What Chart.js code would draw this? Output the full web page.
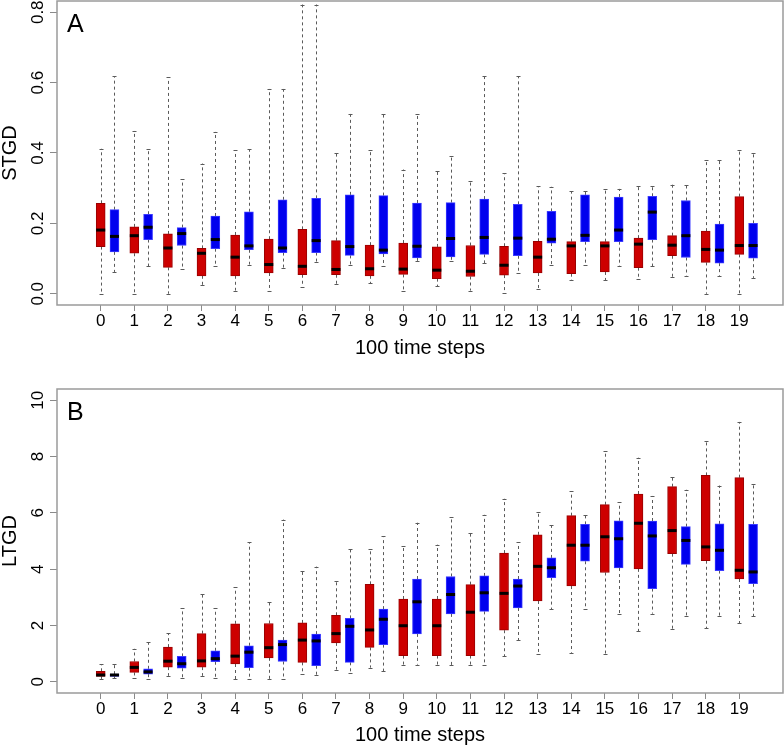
<!DOCTYPE html>
<html><head><meta charset="utf-8">
<script src="https://cdn.jsdelivr.net/npm/chart.js@4/dist/chart.umd.min.js"></script>
<style>
html,body{margin:0;padding:0;background:#fff;}
#wrap{position:relative;width:784px;height:747px;overflow:hidden;}
.pane{position:absolute;left:0;width:784px;}
canvas{display:block;}
</style></head><body>
<div id="wrap">
<div class="pane" style="top:0;height:370px"><canvas id="cA" width="784" height="370"></canvas></div>
<div class="pane" style="top:370px;height:377px"><canvas id="cB" width="784" height="377"></canvas></div>
</div>
<script>
// ---------- data ----------
const categories = [0,1,2,3,4,5,6,7,8,9,10,11,12,13,14,15,16,17,18,19];

// Panel A: STGD (red series)
const stgdRedLow  = [0,0,0,0.024,0.009,0.007,0.020,0.028,0.030,0.009,0.021,0.009,0.001,0.014,0.038,0.038,0.041,0.047,0,0];
const stgdRedQ1   = [0.134,0.115,0.075,0.051,0.051,0.059,0.054,0.054,0.051,0.055,0.043,0.049,0.053,0.059,0.057,0.062,0.074,0.108,0.089,0.112];
const stgdRedMed  = [0.181,0.165,0.130,0.115,0.104,0.083,0.078,0.069,0.071,0.070,0.067,0.064,0.081,0.104,0.136,0.136,0.141,0.138,0.126,0.137];
const stgdRedQ3   = [0.257,0.190,0.170,0.129,0.167,0.155,0.183,0.151,0.138,0.144,0.133,0.137,0.135,0.149,0.148,0.148,0.158,0.165,0.178,0.276];
const stgdRedHigh = [0.412,0.463,0.615,0.370,0.408,0.582,0.822,0.399,0.409,0.353,0.349,0.321,0.343,0.306,0.291,0.298,0.307,0.310,0.379,0.409];
// Panel A: STGD (blue series)
const stgdBlueLow  = [0.062,0.078,0.069,0.078,0.083,0.072,0.091,0.081,0.078,0.092,0.093,0.086,0.060,0.082,0.082,0.078,0.078,0.051,0.051,0.045];
const stgdBlueQ1   = [0.119,0.154,0.137,0.128,0.125,0.117,0.117,0.109,0.113,0.102,0.105,0.112,0.108,0.144,0.148,0.148,0.154,0.103,0.087,0.101];
const stgdBlueMed  = [0.163,0.189,0.171,0.154,0.136,0.130,0.151,0.134,0.124,0.135,0.157,0.160,0.158,0.155,0.166,0.181,0.232,0.165,0.124,0.137];
const stgdBlueQ3   = [0.239,0.226,0.188,0.221,0.233,0.267,0.271,0.281,0.279,0.258,0.259,0.269,0.254,0.234,0.281,0.275,0.277,0.265,0.198,0.200];
const stgdBlueHigh = [0.618,0.410,0.326,0.460,0.410,0.582,0.822,0.511,0.511,0.511,0.392,0.618,0.618,0.304,0.291,0.298,0.307,0.310,0.379,0.399];

// Panel B: LTGD (red series)
const ltgdRedLow  = [0.10,0.15,0.21,0.21,0.08,0.08,0.28,0.43,0.50,0.61,0.58,0.61,0.90,0.97,1.03,0.98,1.80,1.87,1.90,2.08];
const ltgdRedQ1   = [0.19,0.33,0.52,0.52,0.63,0.85,0.69,1.38,1.22,0.93,0.93,0.93,1.83,2.87,3.40,3.88,4.01,4.55,4.30,3.65];
const ltgdRedMed  = [0.24,0.51,0.73,0.74,0.91,1.21,1.48,1.71,1.84,1.99,1.99,2.47,3.14,4.10,4.85,5.15,5.63,5.37,4.79,3.96];
const ltgdRedQ3   = [0.37,0.72,1.23,1.71,2.06,2.07,2.09,2.36,3.46,2.94,2.94,3.45,4.57,5.22,5.90,6.29,6.67,6.93,7.33,7.25];
const ltgdRedHigh = [0.62,1.17,1.73,3.12,3.35,2.85,3.94,3.59,4.73,4.81,4.87,5.27,6.50,6.04,6.77,8.20,7.96,7.27,8.55,9.23];
// Panel B: LTGD (blue series)
const ltgdBlueLow  = [0.12,0.11,0.13,0.15,0.08,0.08,0.24,0.31,0.38,0.61,0.58,0.61,1.47,2.58,2.57,2.42,2.42,2.35,2.33,2.32];
const ltgdBlueQ1   = [0.19,0.27,0.48,0.71,0.50,0.72,0.57,0.69,1.32,1.70,2.41,2.50,2.62,3.70,4.28,4.04,3.31,4.17,3.95,3.48];
const ltgdBlueMed  = [0.24,0.35,0.64,0.82,1.05,1.32,1.45,1.97,2.22,2.84,3.10,3.16,3.40,4.05,4.85,5.08,5.18,5.02,4.67,3.90];
const ltgdBlueQ3   = [0.27,0.46,0.90,1.10,1.28,1.48,1.69,2.25,2.58,3.65,3.74,3.76,3.65,4.40,5.59,5.72,5.71,5.51,5.61,5.59];
const ltgdBlueHigh = [0.62,1.41,2.62,2.62,4.96,5.76,4.09,4.73,5.17,5.65,5.85,5.93,4.96,5.56,5.92,6.38,6.60,6.82,6.97,7.03];

// tick labels
const stgdTicks = [0, 0.2, 0.4, 0.6, 0.8];
const stgdTickLabels = ['0.0','0.2','0.4','0.6','0.8'];
const ltgdTicks = [0, 2, 4, 6, 8, 10];
const ltgdTickLabels = ['0','2','4','6','8','10'];

// ---------- drawing ----------
const FONT = "'Liberation Sans', Arial, Helvetica, sans-serif";
const RED = '#CD0000', RED_BORDER = '#9a0000';
const BLUE = '#0000EE', BLUE_BORDER = '#3a3aff';
const BLUE_OFFSET = 0.41;
const BOX_W = 9;

function makeSeries(low, q1, med, q3, high, off) {
  return categories.map((c, i) => ({pos: c + off, low: low[i], q1: q1[i], med: med[i], q3: q3[i], high: high[i]}));
}

function boxPlugin(series, letter, yTicks, yLabels) {
  return {
    id: 'boxExtras',
    beforeDatasetsDraw(chart) {
      const {ctx, scales: {x, y}, chartArea: ca} = chart;
      ctx.save();
      ctx.beginPath(); ctx.rect(ca.left, ca.top, ca.width, ca.height); ctx.clip();
      ctx.strokeStyle = '#5a5a5a';
      ctx.lineWidth = 1;
      series.forEach(s => s.forEach(b => {
        const px = Math.round(x.getPixelForValue(b.pos)) + 0.5;
        ctx.setLineDash([3, 3]);
        ctx.beginPath();
        ctx.moveTo(px, y.getPixelForValue(b.q1)); ctx.lineTo(px, y.getPixelForValue(b.low));
        ctx.moveTo(px, y.getPixelForValue(b.q3)); ctx.lineTo(px, y.getPixelForValue(b.high));
        ctx.stroke();
        ctx.setLineDash([]);
        ctx.beginPath();
        const yl = Math.round(y.getPixelForValue(b.low)) + 0.5, yh = Math.round(y.getPixelForValue(b.high)) + 0.5;
        ctx.moveTo(px - 2, yl); ctx.lineTo(px + 2, yl);
        ctx.moveTo(px - 2, yh); ctx.lineTo(px + 2, yh);
        ctx.stroke();
      }));
      ctx.restore();
    },
    afterDatasetsDraw(chart) {
      const {ctx, scales: {x, y}} = chart;
      ctx.save();
      ctx.strokeStyle = '#000';
      ctx.lineWidth = 3;
      series.forEach(s => s.forEach(b => {
        const px = x.getPixelForValue(b.pos);
        const py = y.getPixelForValue(b.med);
        ctx.beginPath(); ctx.moveTo(px - BOX_W / 2, py); ctx.lineTo(px + BOX_W / 2, py); ctx.stroke();
      }));
      ctx.restore();
    },
    afterDraw(chart) {
      const {ctx, scales: {y}, chartArea: ca} = chart;
      ctx.save();
      ctx.strokeStyle = '#9a9a9a';
      ctx.lineWidth = 1.5;
      ctx.strokeRect(ca.left, ca.top, ca.right - ca.left, ca.bottom - ca.top);
      ctx.fillStyle = '#000';
      ctx.font = '17px ' + FONT;
      ctx.textAlign = 'center';
      ctx.textBaseline = 'alphabetic';
      yTicks.forEach((v, i) => {
        ctx.save();
        ctx.translate(43, y.getPixelForValue(v));
        ctx.rotate(-Math.PI / 2);
        ctx.fillText(yLabels[i], 0, 0);
        ctx.restore();
      });
      ctx.font = '25px ' + FONT;
      ctx.textAlign = 'left';
      ctx.fillText(letter, ca.left + 10, ca.top + 31);
      ctx.restore();
    }
  };
}

function makeChart(id, cfg) {
  const red = makeSeries(cfg.redLow, cfg.redQ1, cfg.redMed, cfg.redQ3, cfg.redHigh, 0);
  const blue = makeSeries(cfg.blueLow, cfg.blueQ1, cfg.blueMed, cfg.blueQ3, cfg.blueHigh, BLUE_OFFSET);
  const barDs = (s, bg, bc) => ({
    data: s.map(b => ({x: b.pos, y: [b.q1, b.q3]})),
    backgroundColor: bg, borderColor: bc, borderWidth: 1, borderSkipped: false,
    barThickness: BOX_W, grouped: false
  });
  return new Chart(document.getElementById(id), {
    type: 'bar',
    data: {datasets: [barDs(red, RED, RED_BORDER), barDs(blue, BLUE, BLUE_BORDER)]},
    options: {
      responsive: false, animation: false, devicePixelRatio: 1,
      layout: {padding: {top: cfg.top, right: 1, left: 0, bottom: 0}},
      plugins: {legend: {display: false}, tooltip: {enabled: false}},
      scales: {
        x: {
          type: 'linear', min: -1.3, max: 20.3, offset: false,
          afterBuildTicks: s => { s.ticks = categories.map(v => ({value: v})); },
          afterFit: s => { s.height = cfg.xHeight; },
          grid: {display: true, offset: false, drawOnChartArea: false, drawTicks: true, tickLength: 6, color: '#8a8a8a'},
          border: {display: false},
          ticks: {autoSkip: false, maxRotation: 0, minRotation: 0, color: '#000', padding: 0,
                  font: {family: FONT, size: 17, lineHeight: 1.2}, callback: v => String(v)},
          title: {display: true, text: '100 time steps', color: '#000',
                  font: {family: FONT, size: 20, lineHeight: 1}, padding: {top: 0, bottom: cfg.xTitlePad}}
        },
        y: {
          type: 'linear', min: cfg.yMin, max: cfg.yMax,
          afterBuildTicks: s => { s.ticks = cfg.yTicks.map(v => ({value: v})); },
          afterFit: s => { s.width = 57; },
          grid: {display: true, offset: false, drawOnChartArea: false, drawTicks: true, tickLength: 7, color: '#8a8a8a'},
          border: {display: false},
          ticks: {display: false},
          title: {display: true, text: cfg.yTitle, color: '#000',
                  font: {family: FONT, size: 20, lineHeight: 1}, padding: {top: 0, bottom: 0}}
        }
      }
    },
    plugins: [boxPlugin([red, blue], cfg.letter, cfg.yTicks, cfg.yLabels)]
  });
}

makeChart('cA', {
  redLow: stgdRedLow, redQ1: stgdRedQ1, redMed: stgdRedMed, redQ3: stgdRedQ3, redHigh: stgdRedHigh,
  blueLow: stgdBlueLow, blueQ1: stgdBlueQ1, blueMed: stgdBlueMed, blueQ3: stgdBlueQ3, blueHigh: stgdBlueHigh,
  yMin: -0.032, yMax: 0.832, yTicks: stgdTicks, yLabels: stgdTickLabels, yTitle: 'STGD', letter: 'A',
  top: 1, xHeight: 65, xTitlePad: 12
});
makeChart('cB', {
  redLow: ltgdRedLow, redQ1: ltgdRedQ1, redMed: ltgdRedMed, redQ3: ltgdRedQ3, redHigh: ltgdRedHigh,
  blueLow: ltgdBlueLow, blueQ1: ltgdBlueQ1, blueMed: ltgdBlueMed, blueQ3: ltgdBlueQ3, blueHigh: ltgdBlueHigh,
  yMin: -0.4, yMax: 10.4, yTicks: ltgdTicks, yLabels: ltgdTickLabels, yTitle: 'LTGD', letter: 'B',
  top: 19, xHeight: 54, xTitlePad: 2
});
</script>
</body></html>
